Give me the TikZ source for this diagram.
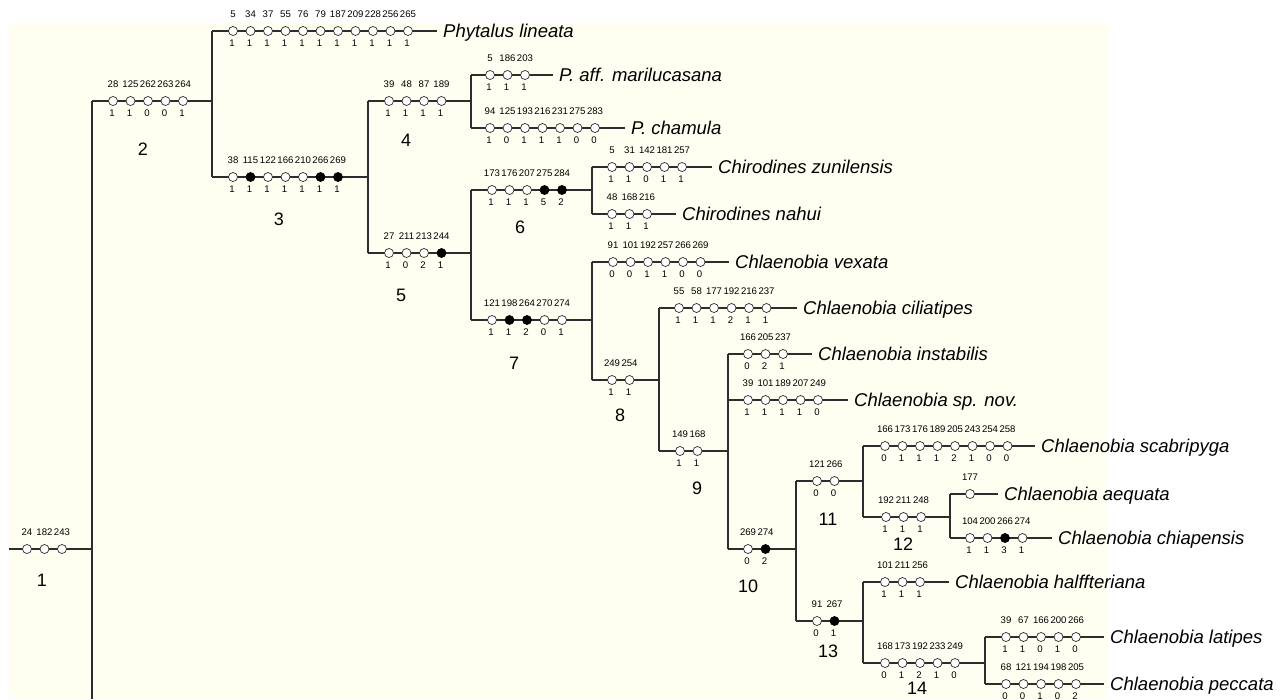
\documentclass[tikz,border=0pt]{standalone}
\usepackage{fontspec}
\setmainfont{Liberation Sans}
\definecolor{bgc}{RGB}{255,254,240}
\definecolor{lnc}{RGB}{45,45,45}
\tikzset{
 branch/.style={draw=lnc, line width=1.3pt},
 oc/.style={circle, draw=lnc, line width=0.7pt, fill=white, inner sep=0pt, minimum size=9pt},
 fc/.style={oc, fill=black, draw=black},
 chr/.style={font=\fontsize{9.6}{10}\selectfont, inner sep=0pt, anchor=base},
 taxon/.style={font=\fontsize{18.5}{20}\selectfont\itshape, inner sep=0pt, anchor=base west},
 nnum/.style={font=\fontsize{18}{20}\selectfont, inner sep=0pt},
}
\newcommand{\brn}[6]{%
  \coordinate (#1s) at (#2,#4);
  \coordinate (#1e) at (#3,#4);
  \draw[branch] (#1s) -- (#1e);
  \foreach \c/\s/\f [count=\i] in {#6} {
    \node[\f] (#1c\i) at ({#5+17.5*(\i-1)},#4) {};
    \node[chr] (#1n\i) at ({#5+17.5*(\i-1)},#4-14) {\c};
    \node[chr] (#1v\i) at ({#5+17.5*(\i-1)-1},#4+15) {\s};
  }
}
\newcommand{\taxonlabel}[2]{%
  \node[taxon] (#1t) at ([shift={(6,6.5)}]#1e) {#2};
}
\begin{document}
\begin{tikzpicture}[x=1pt,y=-1pt]
\useasboundingbox (0,0) rectangle (1284,699);
\fill[white] (0,0) rectangle (1284,699);
\fill[bgc] (9,23) rectangle (1107,699);
% branches
\brn{na}{9}{92}{549}{27}{24//oc,182//oc,243//oc}
\brn{nb}{92}{212}{101}{113}{28/1/oc,125/1/oc,262/0/oc,263/0/oc,264/1/oc}
\brn{phy}{212}{437}{31}{233}{5/1/oc,34/1/oc,37/1/oc,55/1/oc,76/1/oc,79/1/oc,187/1/oc,209/1/oc,228/1/oc,256/1/oc,265/1/oc}
\brn{nc}{212}{368}{177}{233}{38/1/oc,115/1/fc,122/1/oc,166/1/oc,210/1/oc,266/1/fc,269/1/fc}
\brn{nd}{368}{471}{101}{389}{39/1/oc,48/1/oc,87/1/oc,189/1/oc}
\brn{paf}{471}{553}{75}{490}{5/1/oc,186/1/oc,203/1/oc}
\brn{cha}{471}{625}{128}{490}{94/1/oc,125/0/oc,193/1/oc,216/1/oc,231/1/oc,275/0/oc,283/0/oc}
\brn{ne}{368}{471}{253}{389}{27/1/oc,211/0/oc,213/2/oc,244/1/fc}
\brn{nf}{471}{592}{190}{492}{173/1/oc,176/1/oc,207/1/oc,275/5/fc,284/2/fc}
\brn{zun}{592}{712}{167}{612}{5/1/oc,31/1/oc,142/0/oc,181/1/oc,257/1/oc}
\brn{nah}{592}{676}{214}{612}{48/1/oc,168/1/oc,216/1/oc}
\brn{ng}{471}{592}{320}{492}{121/1/oc,198/1/fc,264/2/fc,270/0/oc,274/1/oc}
\brn{vex}{592}{729}{262}{613}{91/0/oc,101/0/oc,192/1/oc,257/1/oc,266/0/oc,269/0/oc}
\brn{nh}{592}{659}{380}{612}{249/1/oc,254/1/oc}
\brn{cil}{659}{797}{308}{679}{55/1/oc,58/1/oc,177/1/oc,192/2/oc,216/1/oc,237/1/oc}
\brn{ni}{659}{728}{451}{680}{149/1/oc,168/1/oc}
\brn{ins}{728}{812}{354}{748}{166/0/oc,205/2/oc,237/1/oc}
\brn{spn}{728}{848}{400}{748}{39/1/oc,101/1/oc,189/1/oc,207/1/oc,249/0/oc}
\brn{nj}{728}{796}{549}{748}{269/0/oc,274/2/fc}
\brn{nk}{796}{863}{481}{817}{121/0/oc,266/0/oc}
\brn{sca}{863}{1035}{446}{885}{166/0/oc,173/1/oc,176/1/oc,189/1/oc,205/2/oc,243/1/oc,254/0/oc,258/0/oc}
\brn{nl}{863}{950}{517}{886}{192/1/oc,211/1/oc,248/1/oc}
\brn{aeq}{950}{998}{494}{970}{177//oc}
\brn{chi}{950}{1052}{538}{970}{104/1/oc,200/1/oc,266/3/fc,274/1/oc}
\brn{nm}{796}{863}{621}{817}{91/0/oc,267/1/fc}
\brn{hal}{863}{949}{582}{885}{101/1/oc,211/1/oc,256/1/oc}
\brn{nn}{863}{985}{663}{885}{168/0/oc,173/1/oc,192/2/oc,233/1/oc,249/0/oc}
\brn{lat}{985}{1104}{637}{1006}{39/1/oc,67/1/oc,166/0/oc,200/1/oc,266/0/oc}
\brn{pec}{985}{1104}{684}{1006}{68/0/oc,121/0/oc,194/1/oc,198/0/oc,205/2/oc}
% verticals
\coordinate (rootbot) at (92,699);
\draw[branch] (nbs) -- (rootbot);
\draw[branch] (phys) -- (ncs);
\draw[branch] (nds) -- (nes);
\draw[branch] (pafs) -- (chas);
\draw[branch] (nfs) -- (ngs);
\draw[branch] (zuns) -- (nahs);
\draw[branch] (vexs) -- (nhs);
\draw[branch] (cils) -- (nis);
\draw[branch] (inss) -- (njs);
\draw[branch] (nks) -- (nms);
\draw[branch] (scas) -- (nls);
\draw[branch] (aeqs) -- (chis);
\draw[branch] (hals) -- (nns);
\draw[branch] (lats) -- (pecs);
% taxa
\taxonlabel{phy}{Phytalus lineata}
\taxonlabel{paf}{P. aff. marilucasana}
\taxonlabel{cha}{P. chamula}
\taxonlabel{zun}{Chirodines zunilensis}
\taxonlabel{nah}{Chirodines nahui}
\taxonlabel{vex}{Chlaenobia vexata}
\taxonlabel{cil}{Chlaenobia ciliatipes}
\taxonlabel{ins}{Chlaenobia instabilis}
\taxonlabel{spn}{Chlaenobia sp. nov.}
\taxonlabel{sca}{Chlaenobia scabripyga}
\taxonlabel{aeq}{Chlaenobia aequata}
\taxonlabel{chi}{Chlaenobia chiapensis}
\taxonlabel{hal}{Chlaenobia halffteriana}
\taxonlabel{lat}{Chlaenobia latipes}
\taxonlabel{pec}{Chlaenobia peccata}
% node numbers
\node[nnum] (l1) at (42,580) {1};
\node[nnum] (l2) at (143,149) {2};
\node[nnum] (l3) at (279,219) {3};
\node[nnum] (l4) at (406,140) {4};
\node[nnum] (l5) at (401,295) {5};
\node[nnum] (l6) at (520,227) {6};
\node[nnum] (l7) at (514,363) {7};
\node[nnum] (l8) at (620,415) {8};
\node[nnum] (l9) at (697,488) {9};
\node[nnum] (l10) at (748,586) {10};
\node[nnum] (l11) at (828,519) {11};
\node[nnum] (l12) at (903,544) {12};
\node[nnum] (l13) at (828,651) {13};
\node[nnum] (l14) at (917,688) {14};
\end{tikzpicture}
\end{document}
